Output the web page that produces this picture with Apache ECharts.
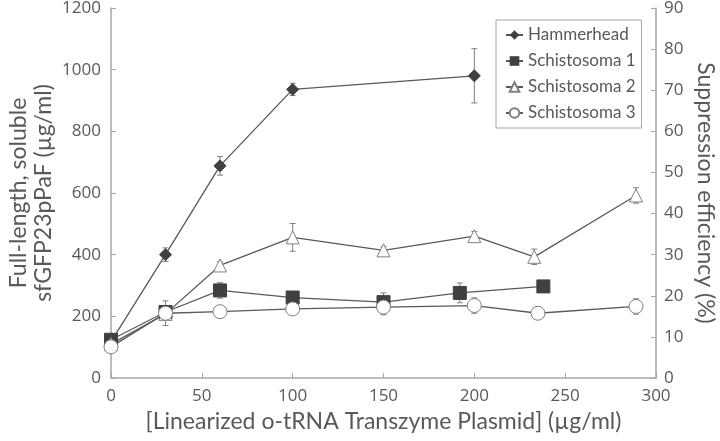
<!DOCTYPE html>
<html><head><meta charset="utf-8">
<script src="https://cdn.jsdelivr.net/npm/echarts@6/dist/echarts.min.js"></script>
<style>html,body{margin:0;padding:0;background:#fff}#c{width:720px;height:441px}</style>
</head><body><div id="c"></div>
<script>
const hammerX = [0, 30, 60, 100, 200];
const hammerY = [118, 400, 688, 936, 980];
const hammerErr = [15, 22, 30, 20, 88];
const s1X = [0, 30, 60, 100, 150, 192, 238];
const s1Y = [124, 214, 284, 261, 246, 276, 297];
const s1Err = [15, 15, 25, 10, 30, 32, 10];
const s2X = [0, 30, 60, 100, 150, 200, 233, 289];
const s2Y = [110, 208, 365, 456, 414, 460, 393, 592];
const s2Err = [10, 10, 12, 45, 12, 15, 25, 25];
const s3X = [0, 30, 60, 100, 150, 200, 235, 289];
const s3Y = [101, 210, 215, 224, 230, 235, 210, 232];
const s3Err = [10, 40, 20, 15, 25, 25, 20, 25];
const xTicks = [0, 50, 100, 150, 200, 250, 300];
const yLeftTicks = [0, 200, 400, 600, 800, 1000, 1200];
const yRightTicks = [0, 10, 20, 30, 40, 50, 60, 70, 80, 90];

const ink = '#404040', lineC = '#595959', axisC = '#a6a6a6', txt = '#595959';
const numFont = 'Open Sans', titleFont = 'Lato';
function pts(xs, ys){ return xs.map((x,i)=>[x, ys[i]]); }
function errData(xs, ys, es){ return xs.map((x,i)=>[x, ys[i]-es[i], ys[i]+es[i]]); }
function errSeries(xs, ys, es){
  return {
    type:'custom', silent:true, z:1,
    data: errData(xs, ys, es),
    renderItem:(params, api)=>{
      const x = api.value(0);
      const lo = api.coord([x, api.value(1)]);
      const hi = api.coord([x, api.value(2)]);
      const w = 3;
      const st = {stroke:'#7f7f7f', lineWidth:1};
      return {type:'group', children:[
        {type:'line', shape:{x1:lo[0],y1:lo[1],x2:hi[0],y2:hi[1]}, style:st},
        {type:'line', shape:{x1:lo[0]-w,y1:lo[1],x2:lo[0]+w,y2:lo[1]}, style:st},
        {type:'line', shape:{x1:hi[0]-w,y1:hi[1],x2:hi[0]+w,y2:hi[1]}, style:st}
      ]};
    }
  };
}
const plain = v => String(v);
const chart = echarts.init(document.getElementById('c'));
chart.setOption({
  animation:false,
  backgroundColor:'#fff',
  grid:{left:111, right:64, top:8, bottom:63, containLabel:false, outerBoundsMode:'none'},
  legend:{
    orient:'vertical', left:496, top:20,
    padding:[6,6,6,9], itemGap:8, itemWidth:17, itemHeight:12,
    borderColor:'#a6a6a6', borderWidth:1, backgroundColor:'#fff',
    textStyle:{fontFamily:titleFont, fontSize:17, color:txt, lineHeight:18},
    data:['Hammerhead','Schistosoma 1','Schistosoma 2','Schistosoma 3']
  },
  xAxis:{
    type:'value', min:0, max:300, interval:50,
    name:'[Linearized o-tRNA Transzyme Plasmid] (µg/ml)',
    nameLocation:'middle', nameGap:32,
    nameTextStyle:{fontFamily:titleFont, fontSize:23, color:txt},
    axisLine:{lineStyle:{color:axisC, width:1.5}},
    axisTick:{inside:true, length:5, lineStyle:{color:axisC}},
    axisLabel:{fontFamily:numFont, fontSize:17, color:txt, margin:10, formatter:plain},
    splitLine:{show:false}
  },
  yAxis:[{
    type:'value', min:0, max:1200, interval:200,
    name:'Full-length, soluble\nsfGFP23pPaF (µg/ml)',
    nameLocation:'middle', nameGap:55, nameRotate:90, nameMoveOverlap:false,
    nameTextStyle:{fontFamily:titleFont, fontSize:23, color:txt, lineHeight:25},
    axisLine:{show:true, lineStyle:{color:axisC, width:1.5}},
    axisTick:{show:true, inside:true, length:5, lineStyle:{color:axisC}},
    axisLabel:{fontFamily:numFont, fontSize:17, color:txt, margin:10, formatter:plain},
    splitLine:{show:false}
  },{
    type:'value', min:0, max:90, interval:10, position:'right',
    name:'Suppression efficiency (%)',
    nameLocation:'middle', nameGap:38, nameRotate:-90,
    nameTextStyle:{fontFamily:titleFont, fontSize:23, color:txt},
    axisLine:{show:true, lineStyle:{color:axisC, width:1.5}},
    axisTick:{show:true, inside:true, length:5, lineStyle:{color:axisC}},
    axisLabel:{fontFamily:numFont, fontSize:17, color:txt, margin:8, formatter:plain},
    splitLine:{show:false}
  }],
  series:[
    errSeries(hammerX, hammerY, hammerErr),
    errSeries(s1X, s1Y, s1Err),
    errSeries(s2X, s2Y, s2Err),
    errSeries(s3X, s3Y, s3Err),
    {name:'Hammerhead', type:'line', data:pts(hammerX, hammerY), z:3,
     symbol:'diamond', symbolSize:12, lineStyle:{color:lineC, width:1.3},
     itemStyle:{color:ink, borderColor:ink}},
    {name:'Schistosoma 1', type:'line', data:pts(s1X, s1Y), z:3,
     symbol:'rect', symbolSize:13, lineStyle:{color:lineC, width:1.3},
     itemStyle:{color:ink, borderColor:ink}},
    {name:'Schistosoma 2', type:'line', data:pts(s2X, s2Y), z:3,
     symbol:'triangle', symbolSize:13, lineStyle:{color:lineC, width:1.3},
     itemStyle:{color:'#fff', borderColor:'#7f7f7f', borderWidth:1}},
    {name:'Schistosoma 3', type:'line', data:pts(s3X, s3Y), z:3,
     symbol:'circle', symbolSize:14, lineStyle:{color:lineC, width:1.3},
     itemStyle:{color:'#fff', borderColor:'#7f7f7f', borderWidth:1}}
  ]
});
</script></body></html>
